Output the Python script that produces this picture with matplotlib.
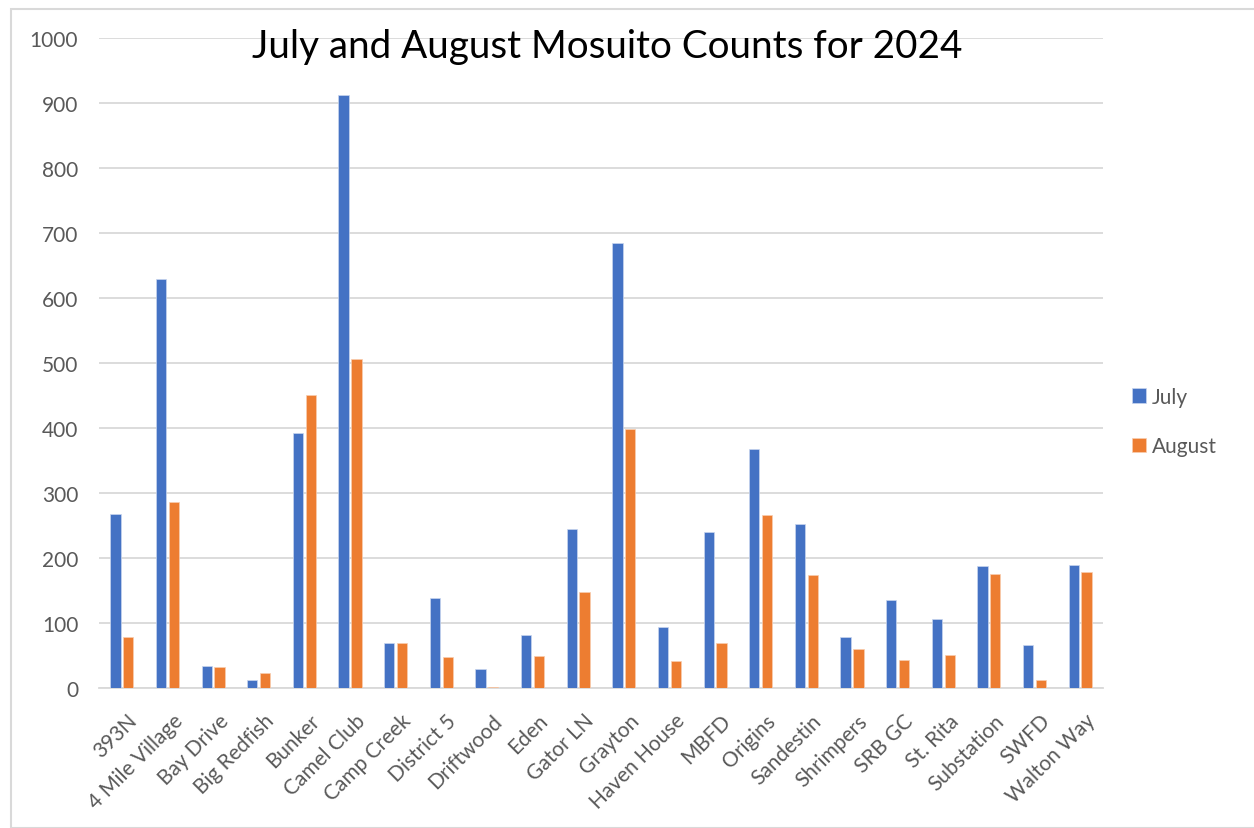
import matplotlib.pyplot as plt
import matplotlib.transforms as mtransforms
import numpy as np
from matplotlib.patches import Rectangle

# Fallenzahlen je Standort, Juli und August 2024
sites = ["393N", "4 Mile Village", "Bay Drive", "Big Redfish", "Bunker", "Camel Club",
         "Camp Creek", "District 5", "Driftwood", "Eden", "Gator LN", "Grayton",
         "Haven House", "MBFD", "Origins", "Sandestin", "Shrimpers", "SRB GC",
         "St. Rita", "Substation", "SWFD", "Walton Way"]
july = [267, 629, 34, 13, 392, 913, 70, 138, 29, 82, 244, 684,
        94, 240, 367, 253, 79, 135, 106, 188, 66, 189]
august = [78, 286, 32, 23, 451, 506, 69, 47, 2, 50, 148, 398,
          41, 70, 266, 174, 60, 43, 51, 175, 12, 178]
y_ticks = [0, 100, 200, 300, 400, 500, 600, 700, 800, 900, 1000]

BLUE = "#4472C4"
ORANGE = "#ED7D31"
GRAY = "#595959"

plt.rcParams['font.family'] = ['Lato', 'DejaVu Sans']

fig = plt.figure(figsize=(12.54, 8.29), dpi=100)
ax = fig.add_axes([99 / 1254, 140 / 829, 1004 / 1254, 650 / 829])

x = np.arange(len(sites))
w = 0.225
off = 0.14
ax.bar(x - off, july, width=w, color=BLUE, edgecolor="#C9D6EE", linewidth=0.5, label="July", zorder=3)
ax.bar(x + off, august, width=w, color=ORANGE, edgecolor="#F8CDB0", linewidth=0.5, label="August", zorder=3)

ax.set_xlim(-0.5, len(sites) - 0.5)
ax.set_ylim(0, 1000)
ax.set_yticks(y_ticks)
ax.yaxis.grid(True, color="#D9D9D9", linewidth=1.3, zorder=0)
ax.tick_params(axis="y", length=0, pad=15, labelsize=15, labelcolor=GRAY)
ax.tick_params(axis="x", length=0, pad=16, labelsize=15, labelcolor=GRAY)
ax.set_xticks(x)
ax.set_xticklabels(sites, rotation=45, ha="right", va="top", rotation_mode="anchor")

# Beschriftungen etwas nach rechts schieben
shift = mtransforms.ScaledTranslation(5 / 100, 0, fig.dpi_scale_trans)
for lbl in ax.get_xticklabels():
    lbl.set_transform(lbl.get_transform() + shift)

for s in ["top", "right", "left"]:
    ax.spines[s].set_visible(False)
ax.spines["bottom"].set_color("#D9D9D9")
ax.spines["bottom"].set_linewidth(1.3)

fig.text(607 / 1254, 1 - 47 / 829, "July and August Mosuito Counts for 2024",
         ha="center", va="center", fontsize=27.8, color="black")

leg = ax.legend(loc="center left", bbox_to_anchor=(1.01, 0.41), frameon=False,
                fontsize=15, handlelength=0.7, handleheight=0.7, labelspacing=1.4,
                handletextpad=0.25)
for t in leg.get_texts():
    t.set_color(GRAY)

# Rahmen um die gesamte Grafik
fig.patches.append(Rectangle((11 / 1254, 0), 1.2, 1 - 10 / 829, transform=fig.transFigure,
                             fill=False, edgecolor="#D9D9D9", linewidth=1.5))

fig.savefig("out.png", dpi=100)
